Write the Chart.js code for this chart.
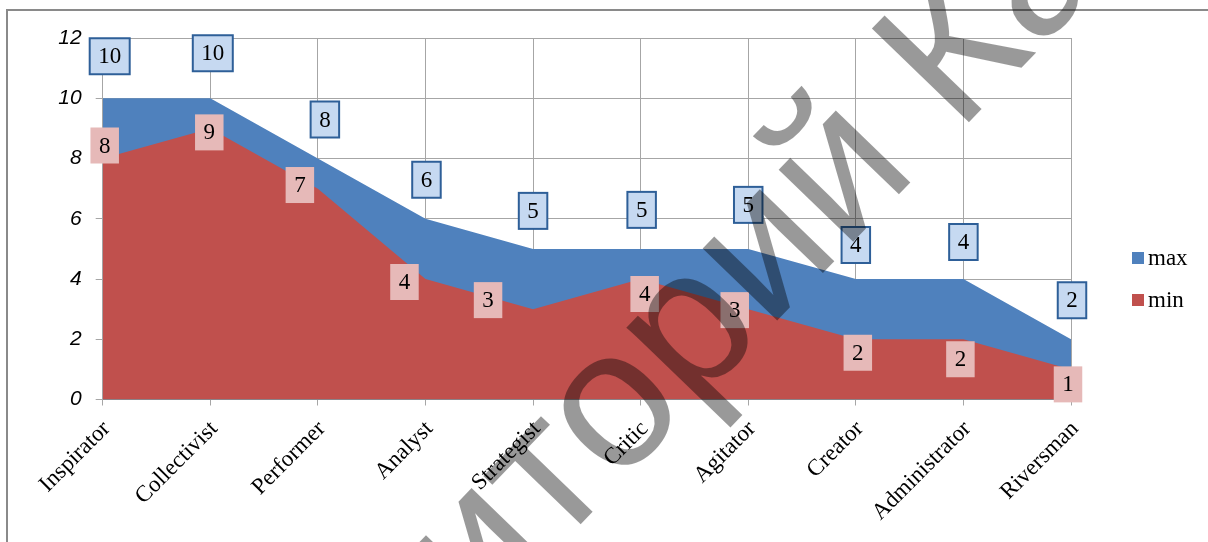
<!DOCTYPE html>
<html>
<head>
<meta charset="utf-8">
<script src="https://cdn.jsdelivr.net/npm/chart.js@4.4.1/dist/chart.umd.min.js"></script>
<style>
  html, body { margin: 0; padding: 0; background: #fff; }
  #wrap { width: 1208px; height: 542px; }
</style>
</head>
<body>
<div id="wrap"><canvas id="chart" width="1208" height="542"></canvas></div>
<script>
// data
const categories = ['Inspirator', 'Collectivist', 'Performer', 'Analyst', 'Strategist',
  'Critic', 'Agitator', 'Creator', 'Administrator', 'Riversman'];
const maxValues = [10, 10, 8, 6, 5, 5, 5, 4, 4, 2];
const minValues = [8, 9, 7, 4, 3, 4, 3, 2, 2, 1];
const yTicks = [0, 2, 4, 6, 8, 10, 12];

const BLUE = '#4F81BD';
const RED = '#C0504D';

// small nudges of the value boxes (they were dragged by hand in the original)
const labelNudge = {
  max: { dx: [7, 2.5, 7, 1, 0, 1, 0, 0, 0, 1], dy: [-42, -45, -39, -39, -38, -39, -44, -34, -37, -39] },
  min: { dx: [2, -1, -18, -21, -45, 4, -13.5, 2, -3, -3], dy: [-13, 4, -3.6, 3, -9, 15, 1, 13.5, 20, 15] }
};

const frameAndLabels = {
  id: 'frameAndLabels',
  beforeDraw(chart) {
    const ctx = chart.ctx;
    ctx.save();
    ctx.fillStyle = '#fff';
    ctx.fillRect(0, 0, chart.width, chart.height);
    ctx.strokeStyle = '#8a8a8a';
    ctx.lineWidth = 2;
    ctx.strokeRect(7, 10, chart.width + 20, chart.height + 20);
    ctx.restore();
  },
  afterDatasetsDraw(chart) {
    const ctx = chart.ctx;
    ctx.save();
    ctx.font = '23px "Liberation Serif"';
    ctx.textAlign = 'center';
    ctx.textBaseline = 'middle';
    chart.data.datasets.forEach((ds, di) => {
      const meta = chart.getDatasetMeta(di);
      const nudge = labelNudge[ds.key];
      meta.data.forEach((pt, i) => {
        const txt = String(ds.data[i]);
        const w = ctx.measureText(txt).width + 17;
        const h = 36;
        const cx = pt.x + nudge.dx[i];
        const cy = pt.y + nudge.dy[i];
        if (ds.key === 'max') {
          ctx.fillStyle = '#C6D9F1';
          ctx.fillRect(cx - w / 2, cy - h / 2, w, h);
          ctx.strokeStyle = '#2E5F98';
          ctx.lineWidth = 2;
          ctx.strokeRect(cx - w / 2, cy - h / 2, w, h);
        } else {
          ctx.fillStyle = '#E6B9B8';
          ctx.fillRect(cx - w / 2, cy - h / 2, w, h);
        }
        ctx.fillStyle = '#000';
        ctx.fillText(txt, cx, cy + 1);
      });
    });
    ctx.restore();
  },
  afterDraw(chart) {
    const ctx = chart.ctx;
    // legend on the right
    ctx.save();
    ctx.font = '23px "Liberation Serif"';
    ctx.textBaseline = 'alphabetic';
    ['max', 'min'].forEach((key, k) => {
      const ds = chart.data.datasets.find(d => d.key === key);
      const top = 252 + k * 42;
      ctx.fillStyle = ds.backgroundColor;
      ctx.fillRect(1132, top, 12, 12);
      ctx.fillStyle = '#000';
      ctx.fillText(ds.label, 1148, top + 13);
    });
    ctx.restore();

    // watermark, placed so its "о" sits where it does in the scan
    ctx.save();
    const size = 196;
    ctx.font = size + 'px "Liberation Sans"';
    ctx.fillStyle = 'rgba(0,0,0,0.4)';
    const ang = -46 * Math.PI / 180;
    const ux = Math.cos(ang), uy = Math.sin(ang);
    const upx = Math.sin(ang), upy = -Math.cos(ang);
    const before = ctx.measureText('Репозит').width;
    const oW = ctx.measureText('о').width;
    const bx = 619 - 0.26 * size * upx, by = 411 - 0.26 * size * upy;
    const ox = bx - (before + oW / 2) * ux;
    const oy = by - (before + oW / 2) * uy;
    ctx.translate(ox, oy);
    ctx.rotate(ang);
    ctx.textBaseline = 'alphabetic';
    ctx.fillText('Репозиторий КазГУ', 0, 0);
    ctx.restore();
  }
};

new Chart(document.getElementById('chart'), {
  type: 'line',
  data: {
    labels: categories,
    datasets: [
      { key: 'min', label: 'min', data: minValues, backgroundColor: RED, borderWidth: 0,
        fill: 'origin', pointRadius: 0, tension: 0, order: 0 },
      { key: 'max', label: 'max', data: maxValues, backgroundColor: BLUE, borderWidth: 0,
        fill: 'origin', pointRadius: 0, tension: 0, order: 1 }
    ]
  },
  options: {
    responsive: false,
    devicePixelRatio: 1,
    animation: false,
    layout: { padding: { top: 38, right: 137, left: 0, bottom: 0 } },
    plugins: { legend: { display: false }, tooltip: { enabled: false } },
    scales: {
      x: {
        offset: false,
        afterFit(s) { s.height = 142.5; },
        grid: { color: '#a6a6a6', lineWidth: 1, tickLength: 6, drawTicks: true },
        border: { color: '#8c8c8c', width: 1 },
        ticks: {
          autoSkip: false, minRotation: 45, maxRotation: 45, padding: 10, labelOffset: 4,
          color: '#000', font: { family: '"Liberation Serif"', size: 23 }
        }
      },
      y: {
        min: 0, max: 12,
        afterFit(s) { s.width = 102.7; },
        afterBuildTicks(s) { s.ticks = yTicks.map(v => ({ value: v })); },
        grid: { color: '#a6a6a6', lineWidth: 1, tickLength: 7 },
        border: { color: '#a6a6a6', width: 1 },
        ticks: {
          padding: 14, color: '#000',
          font: { family: '"Liberation Sans"', size: 21, style: 'italic' }
        }
      }
    }
  },
  plugins: [frameAndLabels]
});
</script>
</body>
</html>
